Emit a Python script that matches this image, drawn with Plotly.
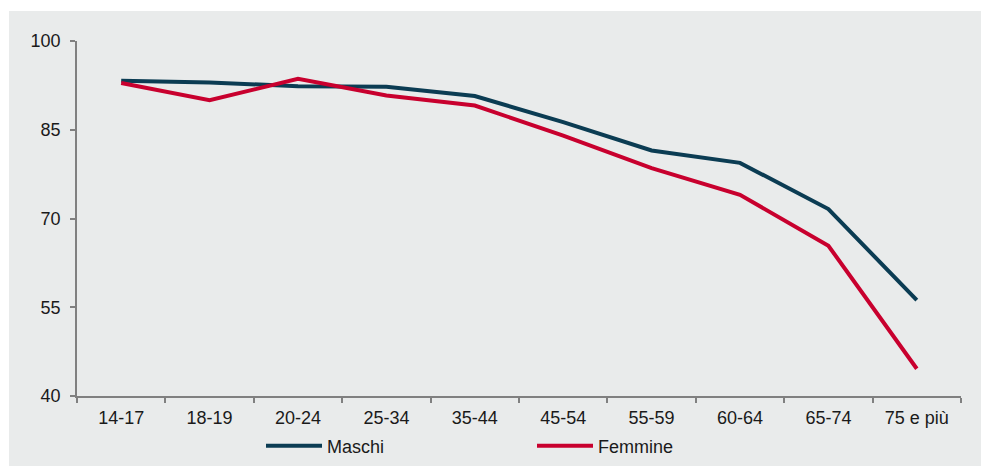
import plotly.graph_objects as go

categories = ["14-17", "18-19", "20-24", "25-34", "35-44", "45-54", "55-59", "60-64", "65-74", "75 e più"]
maschi = [93.3, 93.0, 92.35, 92.25, 90.7, 86.3, 81.5, 79.4, 71.6, 56.2]
femmine = [92.9, 90.0, 93.6, 90.8, 89.1, 84.0, 78.5, 74.0, 65.4, 44.6]
y_ticks = [40, 55, 70, 85, 100]

W, H = 981, 466
L, R, T, B = 77, 20, 41, 70
pw, ph = W - L - R, H - T - B

fig = go.Figure()
fig.add_trace(go.Scatter(x=categories, y=maschi, name="Maschi", mode="lines",
                         line=dict(color="#0b3c53", width=4)))
fig.add_trace(go.Scatter(x=categories, y=femmine, name="Femmine", mode="lines",
                         line=dict(color="#c8002e", width=4)))

# grey panel background
fig.add_shape(type="rect", xref="paper", yref="paper", layer="below",
              x0=(9 - L) / pw, x1=(W + 5 - L) / pw,
              y0=-(B + 5) / ph, y1=(H - B - 11) / ph,
              fillcolor="#e9ebeb", line=dict(width=0))

fam = "Liberation Sans, Arial, sans-serif"
font = dict(family=fam, size=18, color="#1a1a1a")
fig.update_layout(
    width=W, height=H,
    margin=dict(l=L, r=R, t=T, b=B, autoexpand=False),
    paper_bgcolor="white", plot_bgcolor="rgba(0,0,0,0)",
    font=font,
    showlegend=True,
    legend=dict(orientation="h", x=(261 - L) / pw, xanchor="left",
                y=-50 / ph, yanchor="middle",
                entrywidth=200, entrywidthmode="pixels",
                itemwidth=56, bgcolor="rgba(0,0,0,0)",
                font=dict(family=fam, size=18, color="#1a1a1a")),
    xaxis=dict(type="category", tickson="boundaries", ticks="outside", ticklen=5,
               tickcolor="#808080", tickwidth=1.5, showline=True, linecolor="#808080",
               linewidth=1.5, showgrid=False, zeroline=False, range=[-0.5, 9.5],
               ticklabelstandoff=5),
    yaxis=dict(range=[40, 100], tickvals=y_ticks, ticks="outside", ticklen=5,
               tickcolor="#808080", tickwidth=1.5, showline=True, linecolor="#808080",
               linewidth=1.5, showgrid=False, zeroline=False, ticklabelstandoff=6),
)

fig.write_html("out.html", config={"displayModeBar": False},
               post_script="document.body.style.margin='0';document.body.style.overflow='hidden';")
